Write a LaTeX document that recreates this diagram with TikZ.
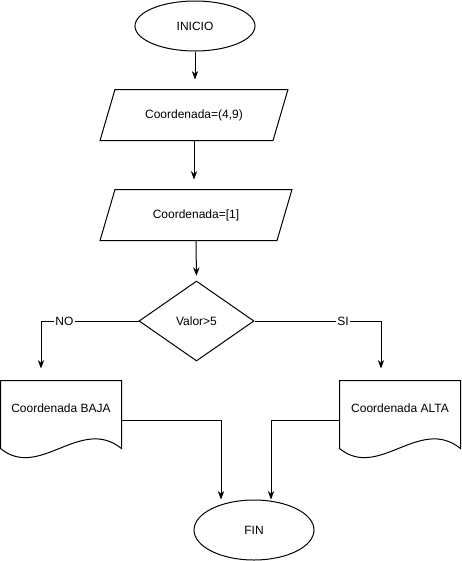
\documentclass[tikz,border=0pt]{standalone}
\usepackage{fontspec}
\setmainfont{Liberation Sans}
\usetikzlibrary{arrows.meta,positioning,calc,shapes.geometric}

\begin{document}
\begin{tikzpicture}[x=0.75pt,y=-0.75pt,>=Stealth,line width=0.75pt,
 font=\fontsize{9}{11}\selectfont,
 term/.style={draw,ellipse,minimum width=90pt,minimum height=37.5pt,inner sep=0pt},
 io/.style={rectangle,minimum width=129pt,minimum height=37.5pt,inner sep=0pt},
 dec/.style={draw,diamond,minimum width=86.25pt,minimum height=60pt,inner sep=0pt},
 doc/.style={rectangle,minimum width=90pt,minimum height=40.5pt,inner sep=0pt},
 lbl/.style={fill=white,inner sep=1pt}]
\useasboundingbox (0,0) rectangle (461,561);
\node[term] (ini) at (195,26) {INICIO};
\node[io] (p1) at (194,115) {Coordenada=(4,9)};
\node[io,minimum width=132pt] (p2) at (196,215) {Coordenada=[1]};
\node[dec] (val) at (196.5,321) {Valor>5};
\node[doc] (baja) at (61,408) {Coordenada BAJA};
\node[doc] (alta) at (400,408) {Coordenada ALTA};
\node[term,minimum height=45pt] (fin) at (254,530) {FIN};
\draw ([xshift=-5.6pt]p1.south west) -- ([xshift=5.6pt]p1.north west)
 -- ([xshift=5.6pt]p1.north east) -- ([xshift=-5.6pt]p1.south east) -- cycle;
\draw ([xshift=-5.6pt]p2.south west) -- ([xshift=5.6pt]p2.north west)
 -- ([xshift=5.6pt]p2.north east) -- ([xshift=-5.6pt]p2.south east) -- cycle;
\draw (baja.north west) -- (baja.north east) -- ([yshift=-9.75pt]baja.south east)
 .. controls +(-41,-33) and +(39,32) .. ([yshift=-9.75pt]baja.south west) -- cycle;
\draw (alta.north west) -- (alta.north east) -- ([yshift=-9.75pt]alta.south east)
 .. controls +(-41,-33) and +(39,32) .. ([yshift=-9.75pt]alta.south west) -- cycle;
\draw[->,shorten >=7.5pt] (ini.south) -- (ini.south |- p1.north);
\draw[->,shorten >=7.5pt] (p1.south) -- (p1.south |- p2.north);
\draw[->,shorten >=3.5pt] (p2.south) -- (val.north);
\draw[->] (val.west) -| ([xshift=-15pt,yshift=9pt]baja.north) node[lbl,pos=0.38] {NO};
\draw[->] (val.east) -| ([xshift=-14.25pt,yshift=9pt]alta.north) node[lbl,pos=0.35] {SI};
\draw[->] ([yshift=-9pt]baja.east) -| ([xshift=-24.75pt]fin.north);
\draw[->] ([yshift=-9pt]alta.west) -| ([xshift=12.75pt]fin.north);
\end{tikzpicture}
\end{document}
